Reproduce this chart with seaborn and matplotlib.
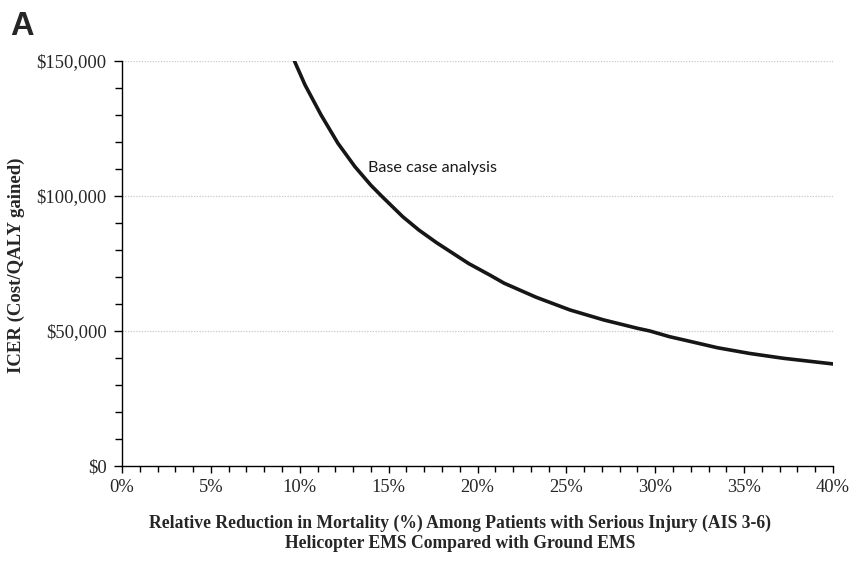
import matplotlib
matplotlib.use("Agg")
import matplotlib.pyplot as plt
from matplotlib.ticker import MultipleLocator
import seaborn as sns
import pandas as pd

# Data
reduction_pct = [9.7, 10.3, 11.2, 12.15, 13.1, 14.0, 14.6, 15.8, 16.7, 17.7, 19.5,
                 20.7, 21.5, 23.3, 25.2, 27.1, 29.0, 29.7, 30.8, 31.6, 33.5,
                 35.3, 37.2, 40.0]
icer = [150000, 141100, 130000, 119500, 110900, 104000, 100000, 92300, 87400, 82700,
        75000, 70700, 67700, 62500, 57800, 54100, 51000, 50000, 47900, 46700, 43800,
        41700, 39900, 37800]

x_ticks = [0, 5, 10, 15, 20, 25, 30, 35, 40]
x_tick_labels = ["0%", "5%", "10%", "15%", "20%", "25%", "30%", "35%", "40%"]
y_ticks = [0, 50000, 100000, 150000]
y_tick_labels = ["$0", "$50,000", "$100,000", "$150,000"]

df = pd.DataFrame({"reduction": reduction_pct, "icer": icer})

sns.set_theme(style="white")
plt.rcParams["font.family"] = ["Liberation Serif", "DejaVu Serif"]

fig = plt.figure(figsize=(8.51, 5.61), dpi=100)
ax = fig.add_axes([122 / 851, 1 - 466 / 561, 711 / 851, 405 / 561])

sns.lineplot(data=df, x="reduction", y="icer", ax=ax, color="#161616",
             linewidth=2.6, sort=True)
ax.lines[0].set_solid_joinstyle("round")
ax.lines[0].set_solid_capstyle("round")

ax.set_xlim(0, 40)
ax.set_ylim(0, 150000)

ax.set_xticks(x_ticks)
ax.set_xticklabels(x_tick_labels, fontsize=13.3)
ax.xaxis.set_minor_locator(MultipleLocator(1))
ax.set_yticks(y_ticks)
ax.set_yticklabels(y_tick_labels, fontsize=13.3)
ax.yaxis.set_minor_locator(MultipleLocator(10000))

ax.tick_params(axis="both", which="both", direction="out", color="black",
               width=1.0, bottom=True, left=True)
ax.tick_params(axis="x", which="major", length=5, pad=4)
ax.tick_params(axis="x", which="minor", length=4)
ax.tick_params(axis="y", which="major", length=6, pad=5)
ax.tick_params(axis="y", which="minor", length=5)

for s in ["top", "right"]:
    ax.spines[s].set_visible(False)
for s in ["left", "bottom"]:
    ax.spines[s].set_color("black")
    ax.spines[s].set_linewidth(1.0)

for yv in [50000, 100000, 150000]:
    ax.axhline(yv, color="#c8c8c8", linestyle=(0, (1, 1.2)), linewidth=0.9, zorder=0)

ax.set_xlabel("Relative Reduction in Mortality (%) Among Patients with Serious Injury (AIS 3-6)\n"
              "Helicopter EMS Compared with Ground EMS",
              fontsize=12.7, fontweight="bold", linespacing=1.22)
ax.xaxis.set_label_coords(0.475, -0.12)
ax.set_ylabel("ICER (Cost/QALY gained)", fontsize=13.5, fontweight="bold")
ax.yaxis.set_label_coords(-0.137, 0.496)

ax.text(13.84, 110400, "Base case analysis", fontsize=11.7, va="center", ha="left",
        family=["Lato", "DejaVu Sans"], color="#1a1a1a")

fig.text(10 / 851, 1 - 35 / 561, "A", fontsize=23.5, fontweight="bold",
         family=["Liberation Sans", "DejaVu Sans"], va="baseline", ha="left")

fig.savefig("out.png", dpi=100, facecolor="white")
